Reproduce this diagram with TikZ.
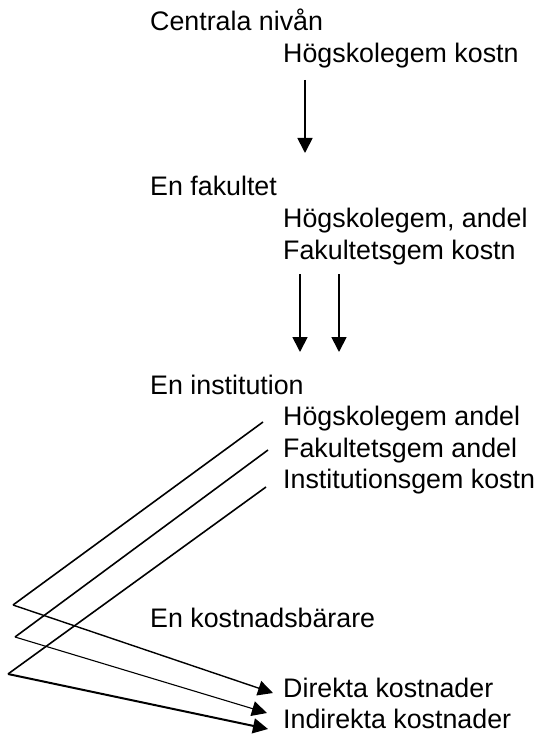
\documentclass[tikz,border=0pt]{standalone}
\usepackage{fontspec}
\setmainfont{Liberation Sans}
\usetikzlibrary{arrows.meta}
\begin{document}
\begin{tikzpicture}[x=1pt,y=-1pt,
  lbl/.style={anchor=base west,inner sep=0pt,font=\fontsize{26.8}{32}\selectfont},
  arr/.style={line width=1.8pt,-{Triangle[length=15pt,width=15pt]}},
  ln/.style={line width=1.6pt},
  ar2/.style={line width=1.4pt,-{Triangle[length=15pt,width=15pt]}}]
\useasboundingbox (0,0) rectangle (539,735);
% texts
\node[lbl] (cn) at (150,31) {Centrala nivån};
\node[lbl] (hk) at (283,63) {Högskolegem kostn};
\node[lbl] (ef) at (150,196) {En fakultet};
\node[lbl] (ha) at (283,227) {Högskolegem, andel};
\node[lbl] (fk) at (283,259) {Fakultetsgem kostn};
\node[lbl] (ei) at (150,394) {En institution};
\node[lbl] (ha2) at (283,425) {Högskolegem andel};
\node[lbl] (fa) at (283,457) {Fakultetsgem andel};
\node[lbl] (ik) at (283,488) {Institutionsgem kostn};
\node[lbl] (kb) at (150,627) {En kostnadsbärare};
\node[lbl] (dk) at (283,697) {Direkta kostnader};
\node[lbl] (ink) at (283,728) {Indirekta kostnader};
% vertical arrows
\coordinate (a1s) at (305,80);  \coordinate (a1e) at (305,153);
\coordinate (a2s) at (300,274); \coordinate (a2e) at (300,352);
\coordinate (a3s) at (339,274); \coordinate (a3e) at (339,352);
\draw[arr] (a1s) -- (a1e);
\draw[arr] (a2s) -- (a2e);
\draw[arr] (a3s) -- (a3e);
% distribution lines
\coordinate (t1) at (263,422); \coordinate (b1) at (13,605); \coordinate (e1) at (273,693);
\coordinate (t2) at (268,450); \coordinate (b2) at (15,637); \coordinate (e2) at (267,713);
\coordinate (t3) at (266,487); \coordinate (b3) at (8,674);  \coordinate (e3) at (268,729);
\draw[ln] (t1) -- (b1);
\draw[ar2] (b1) -- (e1);
\draw[ln] (t2) -- (b2);
\draw[ar2,line width=1.1pt] (b2) -- (e2);
\draw[ln] (t3) -- (b3);
\draw[ar2,line width=2pt] (b3) -- (e3);
\end{tikzpicture}
\end{document}
